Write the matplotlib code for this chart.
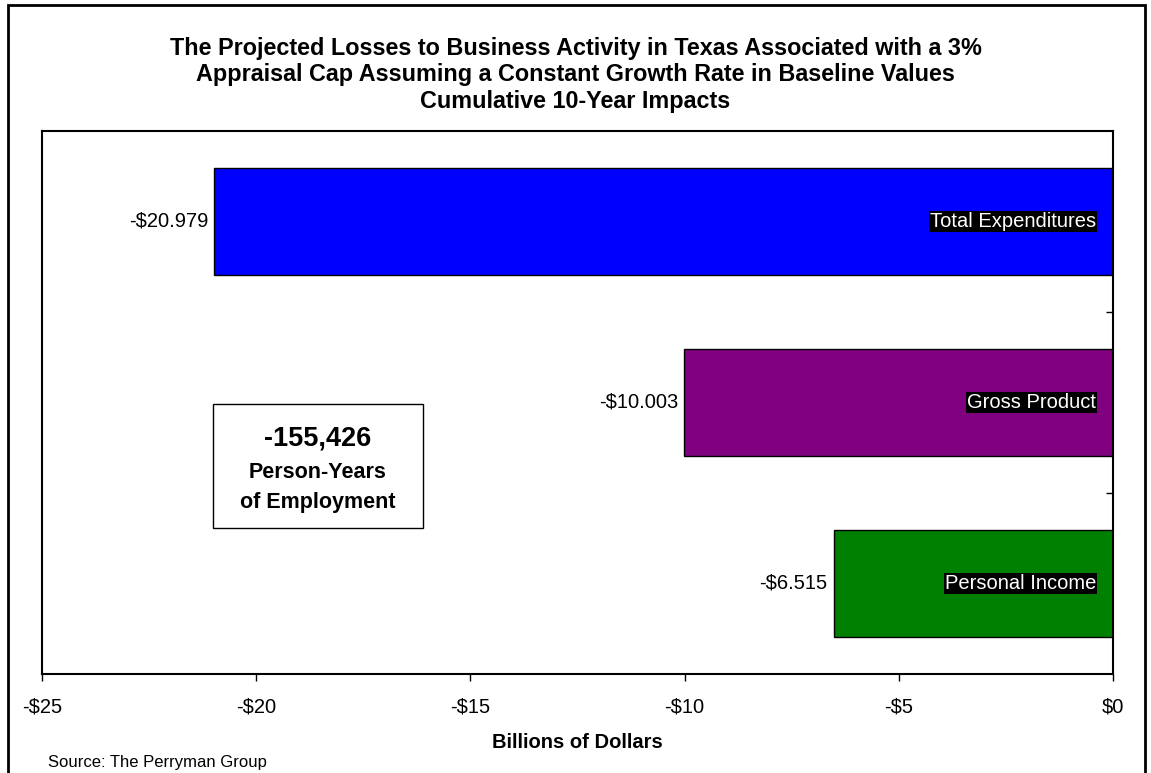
import matplotlib.pyplot as plt
from matplotlib.patches import Rectangle
from matplotlib.ticker import FuncFormatter

plt.rcParams['font.family'] = ['Liberation Sans', 'DejaVu Sans']

# cumulative 10-year impacts, billions of dollars
categories = ['Total Expenditures', 'Gross Product', 'Personal Income']
losses = [-20.979, -10.003, -6.515]
bar_colors = ['#0000FF', '#800080', '#008000']
x_ticks = [-25, -20, -15, -10, -5, 0]
employment_loss = -155426

fig = plt.figure(figsize=(11.51, 7.73), dpi=100)
ax = fig.add_axes([42 / 1151, 99 / 773, 1071 / 1151, 543 / 773])

ypos = list(range(len(categories)))
ax.barh(ypos, losses, height=0.59, color=bar_colors, edgecolor='black', linewidth=1)

ax.set_xlim(-25, 0)
ax.set_ylim(len(categories) - 0.5, -0.5)
ax.set_xticks(x_ticks)
ax.xaxis.set_major_formatter(FuncFormatter(lambda v, p: ('-$%d' % abs(v)) if v < 0 else '$%d' % v))
ax.tick_params(axis='x', direction='out', length=5, width=1, pad=12, labelsize=14.5)

# category separators on the zero line
ax.yaxis.tick_right()
ax.set_yticks([i + 0.5 for i in ypos[:-1]])
ax.set_yticklabels([])
ax.tick_params(axis='y', direction='in', length=5, width=1)

for s in ax.spines.values():
    s.set_linewidth(1.5)

ax.set_xlabel('Billions of Dollars', fontsize=14.5, fontweight='bold', labelpad=12)

for i, (name, v) in enumerate(zip(categories, losses)):
    ax.annotate('-$%.3f' % abs(v), xy=(v, i), xytext=(-4.5, 0), textcoords='offset points',
                ha='right', va='center', fontsize=14.5)
    ax.annotate(name, xy=(0, i), xytext=(-12, 0), textcoords='offset points',
                ha='right', va='center', fontsize=14.5, color='white',
                bbox=dict(boxstyle='square,pad=0.05', facecolor='black', edgecolor='none'))

# employment box
ax.add_patch(Rectangle((0.1597, 0.269), 0.196, 0.228, transform=ax.transAxes,
                       facecolor='white', edgecolor='black', linewidth=1))
ax.text(0.2577, 0.4335, '{:,}'.format(employment_loss), transform=ax.transAxes,
        ha='center', va='center', fontsize=19.5, fontweight='bold')
ax.text(0.2577, 0.3712, 'Person-Years', transform=ax.transAxes,
        ha='center', va='center', fontsize=15.5, fontweight='bold')
ax.text(0.2577, 0.3164, 'of Employment', transform=ax.transAxes,
        ha='center', va='center', fontsize=15.5, fontweight='bold')

fig.text(0.5, 1 - 75 / 773,
         'The Projected Losses to Business Activity in Texas Associated with a 3%\n'
         'Appraisal Cap Assuming a Constant Growth Rate in Baseline Values\n'
         'Cumulative 10-Year Impacts',
         ha='center', va='center', fontsize=16.8, fontweight='bold', linespacing=1.22)

fig.text(48 / 1151, 1 - 762 / 773, 'Source: The Perryman Group', ha='left', va='center', fontsize=12)

# outer chart border
fig.add_artist(Rectangle((8 / 1151, -0.05), 1137 / 1151, 1.05 - 5 / 773, transform=fig.transFigure,
                         fill=False, edgecolor='black', linewidth=2, clip_on=False))

fig.savefig('out.png', dpi=100)
